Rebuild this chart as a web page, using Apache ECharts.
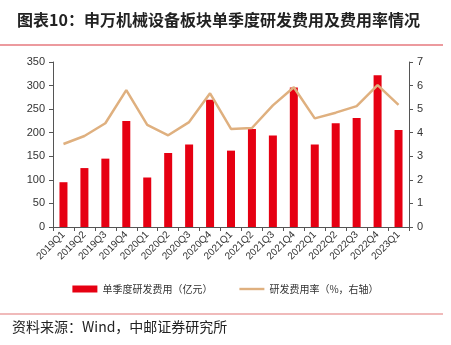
<!DOCTYPE html>
<html><head><meta charset="utf-8">
<script src="https://cdn.jsdelivr.net/npm/echarts@6/dist/echarts.min.js"></script>
<style>html,body{margin:0;padding:0;background:#fff}#c{width:451px;height:345px}</style>
</head><body><div id="c"></div>
<script>
var categories = ['2019Q1','2019Q2','2019Q3','2019Q4','2020Q1','2020Q2','2020Q3','2020Q4','2021Q1','2021Q2','2021Q3','2021Q4','2022Q1','2022Q2','2022Q3','2022Q4','2023Q1'];
var rdExpense = [95,125,145,225,105,157,175,270,162,208,194,296,175,220,231,322,206];
var rdRate = [3.52,3.86,4.40,5.81,4.33,3.89,4.45,5.67,4.16,4.20,5.16,5.93,4.61,4.85,5.13,6.02,5.18];
var leftTicks = [0,350,50];
var rightTicks = [0,7,1];
var chart = echarts.init(document.getElementById('c'));
var font = '"Noto Sans CJK SC", "Noto Sans", sans-serif';
chart.setOption({
  animation:false,
  backgroundColor:'#fff',
  title:{text:'图表10：申万机械设备板块单季度研发费用及费用率情况',left:12,top:7,
    textStyle:{fontSize:16,fontWeight:'bold',color:'#222',fontFamily:font}},
  graphic:[
    {type:'line',shape:{x1:0,y1:45,x2:443,y2:45},style:{stroke:'#d9363e',lineWidth:1.2}},
    {type:'line',shape:{x1:0,y1:314,x2:443,y2:314},style:{stroke:'#eba3a3',lineWidth:1.5}},
    {type:'text',left:12,top:320,style:{text:'资料来源：Wind，中邮证券研究所',fontSize:14,fill:'#222',fontFamily:font}}
  ],
  legend:{top:279,left:'center',itemGap:27,itemWidth:25,itemHeight:7,
    textStyle:{fontSize:10,color:'#333',fontFamily:font},
    data:[{name:'单季度研发费用（亿元）',icon:'rect'},
          {name:'研发费用率（%，右轴）',icon:'path://M0,0 L25,0 L25,2.4 L0,2.4 Z'}]},
  grid:{left:53,right:42,top:62,bottom:118},
  xAxis:{type:'category',data:categories,boundaryGap:true,
    axisLine:{lineStyle:{color:'#555'}},axisTick:{show:true,length:4,lineStyle:{color:'#555'}},
    axisLabel:{rotate:45,fontSize:10,color:'#333',margin:6,interval:0,fontFamily:'Liberation Sans, Arial'}},
  yAxis:[
    {type:'value',min:leftTicks[0],max:leftTicks[1],interval:leftTicks[2],splitLine:{show:false},
     axisLine:{show:true,lineStyle:{color:'#555'}},axisTick:{show:true,length:4,lineStyle:{color:'#555'}},
     axisLabel:{fontSize:11,color:'#333',margin:8,fontFamily:'Liberation Sans, Arial'}},
    {type:'value',min:rightTicks[0],max:rightTicks[1],interval:rightTicks[2],splitLine:{show:false},
     axisLine:{show:true,lineStyle:{color:'#555'}},axisTick:{show:true,length:4,lineStyle:{color:'#555'}},
     axisLabel:{fontSize:11,color:'#333',margin:8,fontFamily:'Liberation Sans, Arial'}}
  ],
  series:[
    {name:'单季度研发费用（亿元）',type:'bar',data:rdExpense,barWidth:8,itemStyle:{color:'#e60012'}},
    {name:'研发费用率（%，右轴）',type:'line',yAxisIndex:1,data:rdRate,symbol:'none',
     lineStyle:{color:'#dfb07f',width:2.5},itemStyle:{color:'#dfb07f'}}
  ]
});
</script></body></html>
